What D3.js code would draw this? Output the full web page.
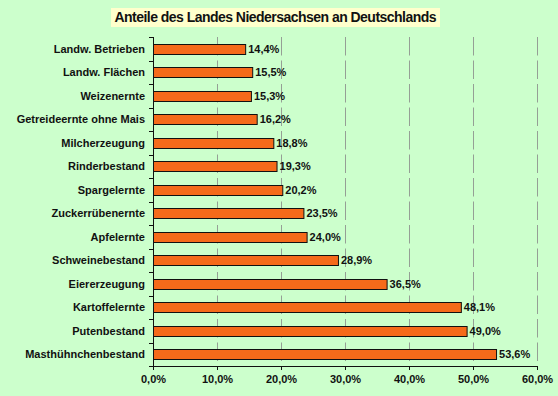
<!DOCTYPE html>
<html>
<head>
<meta charset="utf-8">
<script src="https://cdn.jsdelivr.net/npm/d3@7"></script>
<style>
  html, body { margin: 0; padding: 0; background: #ccffcc; }
  text { font-family: "Liberation Sans", Arial, sans-serif; font-weight: bold; fill: #111; }
</style>
</head>
<body>
<div id="chart"></div>
<script>
const width = 558, height = 396;

// Data
const categories = [
    "Landw. Betrieben", "Landw. Flächen", "Weizenernte", "Getreideernte ohne Mais",
    "Milcherzeugung", "Rinderbestand", "Spargelernte", "Zuckerrübenernte",
    "Apfelernte", "Schweinebestand", "Eiererzeugung", "Kartoffelernte",
    "Putenbestand", "Masthühnchenbestand"
];
const shares = [14.4, 15.5, 15.3, 16.2, 18.8, 19.3, 20.2, 23.5, 24.0, 28.9, 36.5, 48.1, 49.0, 53.6];
const xTicks = [0, 10, 20, 30, 40, 50, 60];
const title = "Anteile des Landes Niedersachsen an Deutschlands";

const margin = { top: 37, right: 21, bottom: 30, left: 153 };
const innerW = width - margin.left - margin.right;
const innerH = height - margin.top - margin.bottom;

const fmt = v => d3.format(".1f")(v).replace(".", ",") + "%";

const svg = d3.select("#chart")
    .append("svg")
    .attr("width", width)
    .attr("height", height);

svg.append("rect")
    .attr("width", width)
    .attr("height", height)
    .attr("fill", "#ccffcc");

// Title box
svg.append("rect")
    .attr("x", 111)
    .attr("y", 8)
    .attr("width", 329)
    .attr("height", 19)
    .attr("fill", "#ffffcc");

svg.append("text")
    .attr("x", 275.5)
    .attr("y", 22)
    .attr("text-anchor", "middle")
    .attr("font-size", 14)
    .attr("textLength", 322)
    .text(title);

const g = svg.append("g")
    .attr("transform", `translate(${margin.left},${margin.top})`);

const x = d3.scaleLinear().domain([0, 60]).range([0, innerW]);
const y = d3.scaleBand().domain(categories).range([0, innerH]).paddingInner(0.57).paddingOuter(0.285);
const step = innerH / categories.length;

// Gridlines (long dashes, one per category row)
g.selectAll(".grid")
    .data(xTicks.slice(1))
    .enter()
    .append("line")
    .attr("class", "grid")
    .attr("x1", d => Math.round(x(d)) + 0.5)
    .attr("x2", d => Math.round(x(d)) + 0.5)
    .attr("y1", 0)
    .attr("y2", innerH)
    .attr("stroke", "#959f95")
    .attr("stroke-dasharray", `${step - 5},5`);

// Bars
g.selectAll(".bar")
    .data(categories)
    .enter()
    .append("rect")
    .attr("class", "bar")
    .attr("x", 0.5)
    .attr("y", d => Math.round(y(d)) + 0.5)
    .attr("width", (d, i) => x(shares[i]))
    .attr("height", Math.round(y.bandwidth()))
    .attr("fill", "#f56a1a")
    .attr("stroke", "#111")
    .attr("stroke-width", 1);

// Value labels
g.selectAll(".val")
    .data(categories)
    .enter()
    .append("text")
    .attr("class", "val")
    .attr("x", (d, i) => x(shares[i]) + 3)
    .attr("y", d => y(d) + y.bandwidth() / 2 + 4)
    .attr("font-size", 11)
    .text((d, i) => fmt(shares[i]));

// Y axis
const yBoundaries = d3.range(categories.length + 1).map(i => i * step);
g.append("line")
    .attr("x1", 0.5).attr("x2", 0.5)
    .attr("y1", 0).attr("y2", innerH)
    .attr("stroke", "#111");
g.selectAll(".ytick")
    .data(yBoundaries)
    .enter()
    .append("line")
    .attr("class", "ytick")
    .attr("x1", -4).attr("x2", 0)
    .attr("y1", d => Math.round(d) + 0.5)
    .attr("y2", d => Math.round(d) + 0.5)
    .attr("stroke", "#111");
g.selectAll(".ylab")
    .data(categories)
    .enter()
    .append("text")
    .attr("class", "ylab")
    .attr("x", -8)
    .attr("y", d => y(d) + y.bandwidth() / 2 + 4)
    .attr("text-anchor", "end")
    .attr("font-size", 11)
    .text(d => d);

// X axis
const xAxis = g.append("g")
    .attr("transform", `translate(0,${innerH})`)
    .call(d3.axisBottom(x).tickValues(xTicks).tickSize(4).tickFormat(d => fmt(d)));
xAxis.select(".domain").attr("stroke", "#111");
xAxis.selectAll(".tick line").attr("stroke", "#111");
xAxis.selectAll(".tick text")
    .attr("font-size", 11)
    .attr("font-family", "Liberation Sans, Arial, sans-serif")
    .attr("font-weight", "bold")
    .attr("fill", "#111")
    .attr("dy", "0.95em");
</script>
</body>
</html>
